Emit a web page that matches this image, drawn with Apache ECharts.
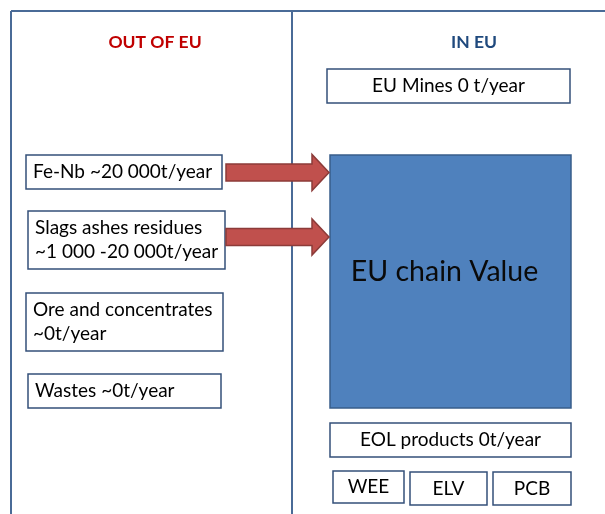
<!DOCTYPE html>
<html>
<head>
<meta charset="utf-8">
<script src="https://cdn.jsdelivr.net/npm/echarts@6/dist/echarts.min.js"></script>
<style>
html,body{margin:0;padding:0;background:#fff;}
#chart-1{width:605px;height:514px;}
</style>
</head>
<body>
<div id="chart-1"></div>
<script>
// 图框线 [x0, y0, x1, y1]
var frameLines = [[11, 11, 605, 11], [11, 11, 11, 514], [292, 11, 292, 514]];
// 标题 [x, y]
var headerPos = [[155, 42], [474, 42]];
var headerText = ['OUT OF EU', 'IN EU'];
var headerColor = ['#C00000', '#1F497D'];
// 左侧框 [x0, y0, x1, y1]
var outBoxes = [[26, 155, 222, 189], [28, 211, 225, 269], [26, 293, 223, 351], [28, 374, 221, 408]];
var outText = ['Fe-Nb ~20 000t/year', 'Slags ashes residues\n~1 000 -20 000t/year', 'Ore and concentrates\n~0t/year', 'Wastes ~0t/year'];
// 右侧框
var inBoxes = [[327, 69, 570, 103], [330, 423, 571, 457], [333, 471, 404, 503], [410, 472, 487, 505], [493, 472, 571, 505]];
var inText = ['EU Mines 0 t/year', 'EOL products 0t/year', 'WEE', 'ELV', 'PCB'];
// 中间大框
var chainBox = [[330, 155, 571, 408]];
var chainText = ['EU chain Value'];
// 箭头 [xStart, xTip, yCenter]
var arrows = [[226, 329, 172.5], [226, 329, 237]];

var FONT = 'Lato, "Open Sans", sans-serif';

function rectOf(api) {
    var p0 = api.coord([api.value(0), api.value(1)]);
    var p1 = api.coord([api.value(2), api.value(3)]);
    return {x: p0[0], y: p0[1], width: p1[0] - p0[0], height: p1[1] - p0[1]};
}

var myChart = echarts.init(document.getElementById('chart-1'));
var option = {
    animation: false,
    grid: {left: 0, right: 0, top: 0, bottom: 0},
    xAxis: {type: 'value', min: 0, max: 605, show: false},
    yAxis: {type: 'value', min: 0, max: 514, inverse: true, show: false},
    series: [
        {
            type: 'custom',
            data: frameLines,
            renderItem: function (params, api) {
                var a = api.coord([api.value(0), api.value(1)]);
                var b = api.coord([api.value(2), api.value(3)]);
                return {
                    type: 'line',
                    shape: {x1: a[0], y1: a[1], x2: b[0], y2: b[1]},
                    style: {stroke: '#4A6B97', lineWidth: 2}
                };
            }
        },
        {
            type: 'custom',
            data: headerPos,
            renderItem: function (params, api) {
                var p = api.coord([api.value(0), api.value(1)]);
                return {
                    type: 'text',
                    x: p[0], y: p[1],
                    style: {
                        text: headerText[params.dataIndex],
                        fill: headerColor[params.dataIndex],
                        font: 'bold 17.5px ' + FONT,
                        align: 'center', verticalAlign: 'middle'
                    }
                };
            }
        },
        {
            type: 'custom',
            data: outBoxes,
            renderItem: function (params, api) {
                var r = rectOf(api);
                return {type: 'group', children: [
                    {type: 'rect', shape: r, style: {fill: '#fff', stroke: '#34507A', lineWidth: 1.5}},
                    {type: 'text', x: r.x + 7, y: r.y + r.height / 2,
                     style: {text: outText[params.dataIndex], fill: '#000', font: '19px ' + FONT,
                             lineHeight: 24, align: 'left', verticalAlign: 'middle'}}
                ]};
            }
        },
        {
            type: 'custom',
            data: inBoxes,
            renderItem: function (params, api) {
                var r = rectOf(api);
                return {type: 'group', children: [
                    {type: 'rect', shape: r, style: {fill: '#fff', stroke: '#34507A', lineWidth: 1.5}},
                    {type: 'text', x: r.x + r.width / 2, y: r.y + r.height / 2,
                     style: {text: inText[params.dataIndex], fill: '#000', font: '19px ' + FONT,
                             align: 'center', verticalAlign: 'middle'}}
                ]};
            }
        },
        {
            type: 'custom',
            data: chainBox,
            renderItem: function (params, api) {
                var r = rectOf(api);
                return {type: 'group', children: [
                    {type: 'rect', shape: r, style: {fill: '#4F81BD', stroke: '#385D8A', lineWidth: 1.5}},
                    {type: 'text', x: r.x + r.width / 2 - 6, y: r.y + r.height / 2 - 10,
                     style: {text: chainText[params.dataIndex], fill: '#0A0A0A', font: '28.5px ' + FONT,
                             align: 'center', verticalAlign: 'middle'}}
                ]};
            }
        },
        {
            type: 'custom',
            data: arrows,
            renderItem: function (params, api) {
                var s = api.coord([api.value(0), api.value(2)]);
                var t = api.coord([api.value(1), api.value(2)]);
                var hb = t[0] - 17, y = s[1];
                return {
                    type: 'polygon',
                    shape: {points: [
                        [s[0], y - 8.5], [hb, y - 8.5], [hb, y - 18], [t[0], y],
                        [hb, y + 18], [hb, y + 8.5], [s[0], y + 8.5]
                    ]},
                    style: {fill: '#C0504D', stroke: '#8C3B39', lineWidth: 1.5}
                };
            }
        }
    ]
};
myChart.setOption(option);
</script>
</body>
</html>
